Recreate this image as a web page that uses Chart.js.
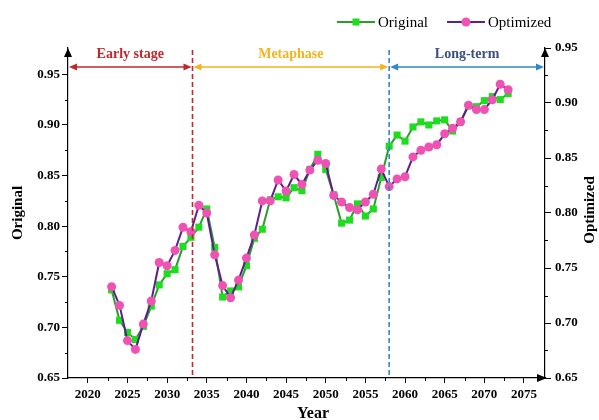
<!DOCTYPE html>
<html>
<head>
<meta charset="utf-8">
<script src="https://cdn.jsdelivr.net/npm/chart.js@4.4.1/dist/chart.umd.min.js"></script>
<style>
  html, body { margin: 0; padding: 0; background: #fff; }
</style>
</head>
<body>
<canvas id="myChart" width="599" height="420"></canvas>
<script>
// data
const years = [2023, 2024, 2025, 2026, 2027, 2028, 2029, 2030, 2031, 2032,
  2033, 2034, 2035, 2036, 2037, 2038, 2039, 2040, 2041, 2042,
  2043, 2044, 2045, 2046, 2047, 2048, 2049, 2050, 2051, 2052,
  2053, 2054, 2055, 2056, 2057, 2058, 2059, 2060, 2061, 2062,
  2063, 2064, 2065, 2066, 2067, 2068, 2069, 2070, 2071, 2072, 2073];
const original = [0.737, 0.707, 0.695, 0.688, 0.701, 0.721, 0.742, 0.753, 0.757, 0.780,
  0.789, 0.799, 0.817, 0.779, 0.730, 0.736, 0.740, 0.761, 0.788, 0.797,
  0.826, 0.829, 0.828, 0.838, 0.835, 0.856, 0.871, 0.856, 0.831, 0.803,
  0.806, 0.822, 0.810, 0.817, 0.848, 0.879, 0.890, 0.884, 0.898, 0.903,
  0.900, 0.904, 0.905, 0.894, 0.903, 0.919, 0.918, 0.924, 0.928, 0.925, 0.931];
const optimized = [0.733, 0.716, 0.684, 0.676, 0.699, 0.720, 0.755, 0.752, 0.766, 0.787,
  0.783, 0.807, 0.800, 0.762, 0.734, 0.723, 0.739, 0.759, 0.780, 0.811,
  0.811, 0.830, 0.820, 0.835, 0.826, 0.839, 0.848, 0.845, 0.816, 0.810,
  0.805, 0.803, 0.810, 0.817, 0.840, 0.824, 0.831, 0.833, 0.851, 0.857,
  0.860, 0.862, 0.872, 0.877, 0.883, 0.898, 0.894, 0.894, 0.903, 0.917, 0.912];
const yearTicks = [2020, 2025, 2030, 2035, 2040, 2045, 2050, 2055, 2060, 2065, 2070, 2075];
const valueTicks = [0.65, 0.70, 0.75, 0.80, 0.85, 0.90, 0.95];
const phaseNames = ['Early stage', 'Metaphase', 'Long-term'];
const phaseBounds = [2033.2, 2058];

const SERIF = '"Liberation Serif", "Times New Roman", serif';
const phaseLine = ['#c1272d', '#f3b51f', '#2f87c9'];
const phaseText = ['#c1272d', '#f3b51f', '#3d4f7c'];
const boundColor = ['#c1272d', '#2f87c9'];

function mids(arr) {
  const out = [];
  for (let i = 0; i < arr.length - 1; i++) out.push((arr[i] + arr[i + 1]) / 2);
  return out;
}

function arrowHead(ctx, x, y, dir, len, half) {
  // dir: 'up', 'left', 'right'
  ctx.beginPath();
  if (dir === 'up') {
    ctx.moveTo(x, y); ctx.lineTo(x - half, y + len); ctx.lineTo(x + half, y + len);
  } else if (dir === 'right') {
    ctx.moveTo(x, y); ctx.lineTo(x - len, y - half); ctx.lineTo(x - len, y + half);
  } else {
    ctx.moveTo(x, y); ctx.lineTo(x + len, y - half); ctx.lineTo(x + len, y + half);
  }
  ctx.closePath();
  ctx.fill();
}

const decor = {
  id: 'decor',
  beforeDraw(chart) {
    const ctx = chart.ctx;
    ctx.save();
    ctx.fillStyle = '#fff';
    ctx.fillRect(0, 0, chart.width, chart.height);
    ctx.restore();
  },
  afterDraw(chart) {
    const ctx = chart.ctx;
    const a = chart.chartArea;
    const sx = chart.scales.x, sy = chart.scales.y, sy1 = chart.scales.y1;
    ctx.save();

    // minor ticks
    ctx.strokeStyle = '#000';
    ctx.lineWidth = 1;
    ctx.beginPath();
    mids(yearTicks).forEach(v => {
      const px = Math.round(sx.getPixelForValue(v)) + 0.5;
      ctx.moveTo(px, a.bottom); ctx.lineTo(px, a.bottom + 3);
    });
    mids(valueTicks).forEach(v => {
      const py = Math.round(sy.getPixelForValue(v)) + 0.5;
      ctx.moveTo(a.left, py); ctx.lineTo(a.left - 3, py);
      const py1 = Math.round(sy1.getPixelForValue(v)) + 0.5;
      ctx.moveTo(a.right, py1); ctx.lineTo(a.right + 3, py1);
    });
    ctx.stroke();

    // axis arrows
    ctx.fillStyle = '#000';
    arrowHead(ctx, a.left, a.top, 'up', 9, 4);
    arrowHead(ctx, a.right, a.top, 'up', 9, 4);
    arrowHead(ctx, a.right + 2, a.bottom, 'right', 10, 4);

    // phase boundaries
    const bx = phaseBounds.map(v => sx.getPixelForValue(v));
    ctx.lineWidth = 1.6;
    ctx.setLineDash([5, 3]);
    bx.forEach((x, i) => {
      ctx.strokeStyle = boundColor[i];
      ctx.beginPath();
      ctx.moveTo(x, 50); ctx.lineTo(x, a.bottom);
      ctx.stroke();
    });
    ctx.setLineDash([]);

    // phase arrows + labels
    const edges = [a.left, bx[0], bx[1], a.right];
    const ay = 67;
    ctx.font = 'bold 14px ' + SERIF;
    ctx.textAlign = 'center';
    ctx.textBaseline = 'middle';
    for (let i = 0; i < 3; i++) {
      const x0 = edges[i] + 1, x1 = edges[i + 1] - 1;
      ctx.strokeStyle = phaseLine[i];
      ctx.fillStyle = phaseLine[i];
      ctx.lineWidth = 1.5;
      ctx.beginPath();
      ctx.moveTo(x0 + 4, ay); ctx.lineTo(x1 - 4, ay);
      ctx.stroke();
      arrowHead(ctx, x0, ay, 'left', 8, 3.5);
      arrowHead(ctx, x1, ay, 'right', 8, 3.5);
      ctx.fillStyle = phaseText[i];
      ctx.fillText(phaseNames[i], (edges[i] + edges[i + 1]) / 2, 54);
    }

    // axis titles
    ctx.fillStyle = '#000';
    ctx.font = 'bold 16px ' + SERIF;
    ctx.fillText('Year', 313, 414);
    ctx.font = 'bold 15px ' + SERIF;
    ctx.save();
    ctx.translate(18, (a.top + a.bottom) / 2);
    ctx.rotate(-Math.PI / 2);
    ctx.fillText('Original', 0, 0);
    ctx.restore();
    ctx.save();
    ctx.translate(590, 210);
    ctx.rotate(-Math.PI / 2);
    ctx.fillText('Optimized', 0, 0);
    ctx.restore();

    // legend
    const ds = chart.data.datasets;
    const items = [
      { d: ds[1], x: 337 },
      { d: ds[0], x: 447 }
    ];
    ctx.font = '15px ' + SERIF;
    ctx.textAlign = 'left';
    items.forEach(it => {
      const d = it.d, ly = 22;
      ctx.strokeStyle = d.borderColor;
      ctx.lineWidth = 2;
      ctx.beginPath();
      ctx.moveTo(it.x, ly); ctx.lineTo(it.x + 38, ly);
      ctx.stroke();
      ctx.fillStyle = d.pointBackgroundColor;
      if (d.pointStyle === 'rect') {
        ctx.fillRect(it.x + 19 - 3.5, ly - 3.5, 7, 7);
      } else {
        ctx.beginPath();
        ctx.arc(it.x + 19, ly, 4.5, 0, Math.PI * 2);
        ctx.fill();
      }
      ctx.fillStyle = '#000';
      ctx.fillText(d.label, it.x + 41, ly + 1);
    });

    ctx.restore();
  }
};

const tickFont = { family: SERIF, size: 13, weight: 'bold' };

new Chart(document.getElementById('myChart'), {
  type: 'line',
  data: {
    datasets: [
      {
        label: 'Optimized',
        data: years.map((yr, i) => ({ x: yr, y: optimized[i] })),
        yAxisID: 'y1',
        borderColor: '#5d1f8c',
        borderWidth: 2,
        pointStyle: 'circle',
        pointRadius: 4.5,
        pointBackgroundColor: '#f052b4',
        pointBorderColor: '#f052b4',
        pointBorderWidth: 0,
        tension: 0,
        order: 0
      },
      {
        label: 'Original',
        data: years.map((yr, i) => ({ x: yr, y: original[i] })),
        yAxisID: 'y',
        borderColor: '#2a9d2a',
        borderWidth: 2,
        pointStyle: 'rect',
        pointRadius: 5,
        pointBackgroundColor: '#1edc1e',
        pointBorderColor: '#1edc1e',
        pointBorderWidth: 0,
        tension: 0,
        order: 1
      }
    ]
  },
  options: {
    responsive: false,
    animation: false,
    layout: { padding: { top: 48, left: 0, right: 0, bottom: 0 } },
    plugins: { legend: { display: false }, tooltip: { enabled: false } },
    scales: {
      x: {
        type: 'linear',
        min: 2017.5,
        max: 2077.65,
        afterBuildTicks: s => { s.ticks = yearTicks.map(v => ({ value: v })); },
        afterFit: s => { s.height = 42; },
        grid: { drawOnChartArea: false, tickLength: 5, tickColor: '#000' },
        border: { color: '#000', width: 1.2 },
        ticks: { autoSkip: false, maxRotation: 0, padding: 4, color: '#000', font: tickFont,
          callback: v => String(v) }
      },
      y: {
        position: 'left',
        min: 0.65,
        max: 0.976,
        afterBuildTicks: s => { s.ticks = valueTicks.map(v => ({ value: v })); },
        afterFit: s => { s.width = 68; },
        grid: { drawOnChartArea: false, tickLength: 6, tickColor: '#000' },
        border: { color: '#000', width: 1.2 },
        ticks: { padding: 2, color: '#000', font: tickFont, callback: v => v.toFixed(2) }
      },
      y1: {
        position: 'right',
        min: 0.65,
        max: 0.95,
        afterBuildTicks: s => { s.ticks = valueTicks.map(v => ({ value: v })); },
        afterFit: s => { s.width = 54; },
        grid: { drawOnChartArea: false, tickLength: 6, tickColor: '#000' },
        border: { color: '#000', width: 1.2 },
        ticks: { padding: 4, color: '#000', font: tickFont, callback: v => v.toFixed(2) }
      }
    }
  },
  plugins: [decor]
});
</script>
</body>
</html>
